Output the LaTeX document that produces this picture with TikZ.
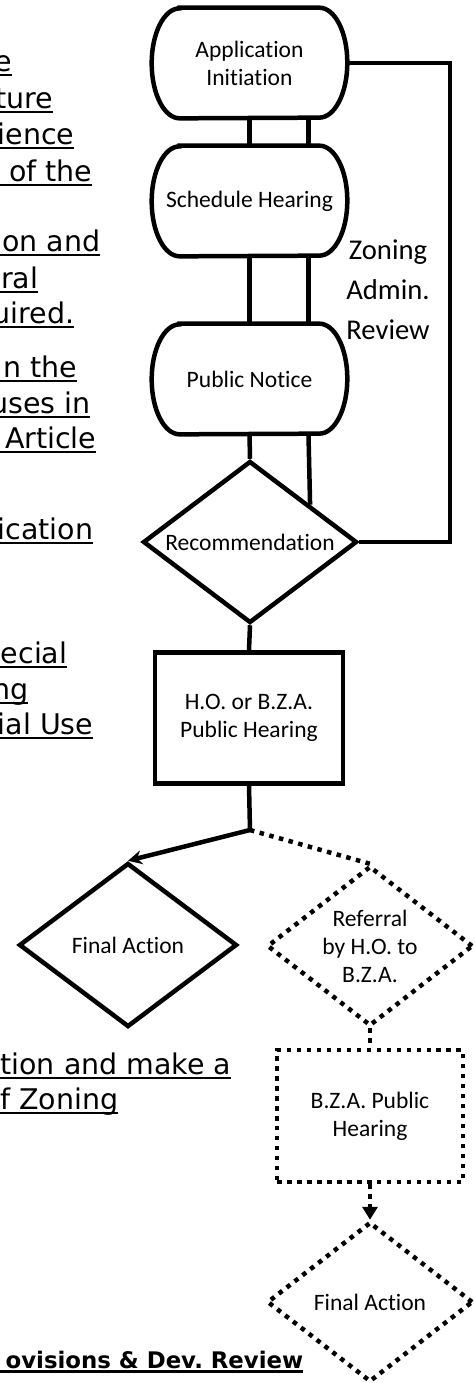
\documentclass[tikz,border=0pt]{standalone}
\usepackage{fontspec}
\setmainfont{DejaVu Sans}
\newfontfamily\cali[Ligatures=NoCommon]{Carlito}
\usetikzlibrary{shapes.geometric}
\usetikzlibrary{arrows.meta}
\usetikzlibrary{calc}
\frenchspacing

% underlined text, right aligned in a box of given width
\newcommand\ulw[3][0.04cm]{\rlap{\rule[-0.1cm]{#2}{#1}}\makebox[#2][r]{#3}}

% border of a terminator box (elliptic ends)
\newcommand\termline[1]{%
  \draw[flowline] ([xshift=0.56cm]#1.north west) -- ([xshift=-0.56cm]#1.north east)
    arc[start angle=90, end angle=-90, x radius=0.56cm, y radius=1.1cm]
    -- ([xshift=0.56cm]#1.south west)
    arc[start angle=270, end angle=90, x radius=0.56cm, y radius=1.1cm] -- cycle;}

\tikzset{
  flowline/.style={line width=0.09cm},
  dotline/.style={line width=0.09cm, dash pattern=on 0.09cm off 0.11cm},
  note/.style={anchor=base west, inner sep=0pt, font=\fontsize{16.2}{19}\selectfont},
  boxtext/.style={align=center, font=\cali\fontsize{13.4}{15.9}\selectfont},
  termbox/.style={boxtext, minimum width=3.9cm, minimum height=2.2cm, inner sep=0pt},
  procbox/.style={boxtext, draw, flowline, inner sep=0pt},
  decision/.style={boxtext, diamond, draw, flowline, inner sep=0pt, aspect=1.3},
}

\begin{document}
\begin{tikzpicture}[x=0.02cm, y=-0.02cm]
        \useasboundingbox (0,0) rectangle (474,1383);

        %------------------
        % text on the left (cut off)
        %------------------
        \node[note] (t1) at (0,71) {\ulw{0.24cm}{e}};
        \node[note] (t2) at (0,108) {\ulw{1.06cm}{ture}};
        \node[note] (t3) at (0,144) {\ulw{1.48cm}{ience}};
        \node[note] (t4) at (0,181) {\ulw{1.84cm}{of the}};
        \node[note] (t5) at (0,251) {\ulw{2.0cm}{on and}};
        \node[note] (t6) at (0,288) {\ulw{0.76cm}{ral}};
        \node[note] (t7) at (0,323) {\ulw{1.48cm}{uired.}};
        \node[note] (t8) at (0,377) {\ulw{1.54cm}{n the}};
        \node[note] (t9) at (0,413) {\ulw{1.8cm}{uses in}};
        \node[note] (t10) at (0,448) {\ulw{1.92cm}{Article}};
        \node[note] (t11) at (0,539) {\ulw{1.86cm}{ication}};
        \node[note] (t12) at (0,663) {\ulw{1.34cm}{ecial}};
        \node[note] (t13) at (0,699) {\ulw{0.56cm}{ng}};
        \node[note] (t14) at (0,734) {\ulw{1.86cm}{ial Use}};
        \node[note] (t15) at (0,1074) {\ulw{4.62cm}{tion and make a}};
        \node[note] (t16) at (0,1109) {\ulw{2.36cm}{f Zoning}};
        \node[note, font=\bfseries\fontsize{13}{15}\selectfont] (t17) at (0,1368)
          {\ulw[0.06cm]{6.06cm}{ovisions \& Dev. Review}};

        %------------------
        % boxes
        %------------------
        \node[termbox] (app) at (249.5,63) {Application\\Initiation};
        \node[termbox] (sched) at (249.5,201) {Schedule Hearing};
        \node[termbox] (pub) at (249.5,379) {Public Notice};
        \termline{app}
        \termline{sched}
        \termline{pub}

        \node[decision, minimum width=4.28cm, minimum height=3.24cm] (rec) at (250,542) {Recommendation};
        \node[procbox, minimum width=3.76cm, minimum height=2.62cm] (hob) at (249,718) {H.O. or B.Z.A.\\Public Hearing};
        \coordinate (split) at (250,830);
        \node[decision, minimum width=4.36cm, minimum height=3.28cm] (fa1) at (128,945) {Final Action};
        \node[decision, dotline, minimum width=4.12cm, minimum height=3.2cm] (ref) at (370,946) {Referral\\by H.O. to\\B.Z.A.};
        \node[procbox, dotline, minimum width=3.72cm, minimum height=2.64cm] (bzab) at (370,1116) {B.Z.A. Public\\Hearing};
        \node[decision, dotline, minimum width=4.12cm, minimum height=3.2cm] (fa2) at (370,1302) {Final Action};

        \node[font=\cali\fontsize{16.3}{22.8}\selectfont, align=center] (zar) at (388,290) {Zoning\\Admin.\\Review};

        %------------------
        % lines
        %------------------
        \draw[flowline] (app.south) -- (sched.north);
        \draw[flowline] ([xshift=1.18cm]app.south) -- ([xshift=1.18cm]sched.north);
        \draw[flowline] (sched.south) -- (pub.north);
        \draw[flowline] ([xshift=1.18cm]sched.south) -- ([xshift=1.18cm]pub.north);
        \draw[flowline] (pub.south) -- (rec.north);
        \draw[flowline] ([xshift=1.18cm]pub.south) -- ($(rec.north)!0.55!(rec.east)$);

        % zoning admin. review loop
        \coordinate (loop) at (450,300);
        \draw[flowline] (app.east) -| (loop) |- (rec.east);

        \draw[flowline] (rec.south) -- (hob.north);
        \draw[flowline] (hob.south) -- (split);
        \draw[flowline, -{Stealth[length=0.28cm, width=0.28cm]}] (split) -- (fa1.north);
        \draw[dotline] (split) -- (ref.north);
        \draw[dotline] (ref.south) -- (bzab.north);
        \draw[dotline, -{Triangle[length=0.26cm, width=0.3cm]}] (bzab.south) -- (fa2.north);
      \end{tikzpicture}
\end{document}
